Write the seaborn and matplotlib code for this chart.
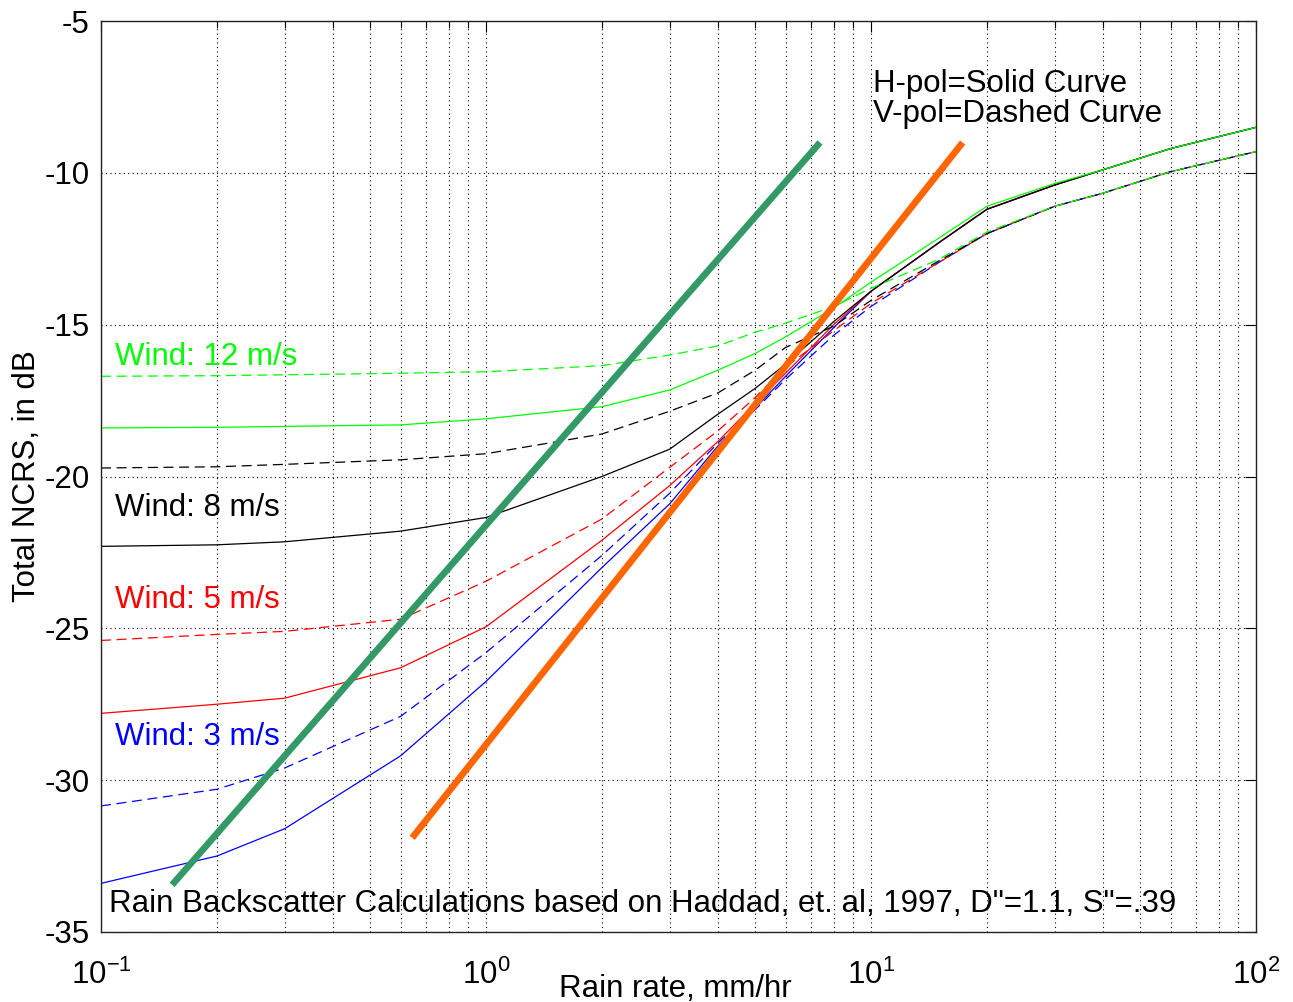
import numpy as np
import pandas as pd
import matplotlib
matplotlib.use('Agg')
import matplotlib.pyplot as plt
from matplotlib.ticker import FixedLocator, FuncFormatter, LogLocator, NullFormatter
import seaborn as sns

# Rain rates (mm/hr) at which the curves were read
rain_rate = [0.1, 0.2, 0.3, 0.6, 1, 2, 3, 4, 5, 6, 8, 10, 15, 20, 30, 40, 60, 100]

# Total NCRS (dB), H-pol = solid, V-pol = dashed
hpol_3 = [-33.4, -32.5, -31.6, -29.2, -26.75, -23.0, -20.9, -19.0, -17.75, -16.7, -15.1,
          -13.9, -12.3, -11.2, -10.4, -9.9, -9.2, -8.5]
vpol_3 = [-30.85, -30.3, -29.6, -27.9, -25.8, -22.6, -20.55, -18.9, -17.8, -16.8, -15.35,
          -14.4, -12.95, -12.0, -11.1, -10.67, -9.96, -9.3]
hpol_5 = [-27.8, -27.5, -27.3, -26.3, -24.95, -22.1, -20.3, -18.85, -17.6, -16.6, -15.0,
          -13.9, -12.3, -11.2, -10.4, -9.9, -9.2, -8.5]
vpol_5 = [-25.4, -25.2, -25.1, -24.7, -23.45, -21.4, -19.7, -18.5, -17.4, -16.4, -15.2,
          -14.3, -12.95, -12.0, -11.1, -10.67, -9.96, -9.3]
hpol_8 = [-22.3, -22.25, -22.15, -21.8, -21.35, -20.0, -19.1, -17.95, -17.1, -16.3, -14.9,
          -13.9, -12.3, -11.2, -10.4, -9.9, -9.2, -8.5]
vpol_8 = [-19.72, -19.68, -19.6, -19.45, -19.25, -18.6, -17.85, -17.25, -16.5, -15.75, -15.05,
          -14.2, -12.9, -12.0, -11.1, -10.67, -9.96, -9.3]
hpol_12 = [-18.4, -18.38, -18.35, -18.3, -18.1, -17.7, -17.15, -16.5, -15.95, -15.4, -14.45,
           -13.6, -12.15, -11.1, -10.35, -9.9, -9.2, -8.5]
vpol_12 = [-16.7, -16.68, -16.65, -16.6, -16.55, -16.35, -16.0, -15.7, -15.25, -14.95, -14.4,
           -13.8, -12.85, -11.95, -11.1, -10.67, -9.96, -9.3]

# Two thick reference lines
green_line_x = [0.153, 7.37]
green_line_y = [-33.45, -9.0]
orange_line_x = [0.643, 17.3]
orange_line_y = [-31.9, -9.0]

wind_labels = ['Wind: 3 m/s', 'Wind: 5 m/s', 'Wind: 8 m/s', 'Wind: 12 m/s']
wind_label_y = [-28.84, -24.33, -21.3, -16.33]
wind_colors = ['#0000FF', '#FF0000', '#000000', '#00FF00']

sns.set_style('white')
plt.rcParams['font.family'] = ['Liberation Sans', 'DejaVu Sans']
plt.rcParams['axes.unicode_minus'] = False
plt.rcParams['mathtext.default'] = 'regular'
plt.rcParams['text.color'] = 'black'
plt.rcParams['axes.labelcolor'] = 'black'
plt.rcParams['xtick.color'] = 'black'
plt.rcParams['ytick.color'] = 'black'

fs = 22.5

fig = plt.figure(figsize=(12.93, 10.02), dpi=100)
ax = fig.add_axes([0.0781, 0.0699, 0.8933, 0.9091])

curves = [(hpol_3, vpol_3), (hpol_5, vpol_5), (hpol_8, vpol_8), (hpol_12, vpol_12)]
for (h, v), c in zip(curves, wind_colors):
    sns.lineplot(x=rain_rate, y=h, color=c, lw=0.9, ax=ax)
    sns.lineplot(x=rain_rate, y=v, color=c, lw=0.9, linestyle=(0, (8, 4.5)), ax=ax)

sns.lineplot(x=green_line_x, y=green_line_y, color='#339966', lw=4.8,
             solid_capstyle='butt', ax=ax)
sns.lineplot(x=orange_line_x, y=orange_line_y, color='#FF6600', lw=4.8,
             solid_capstyle='butt', ax=ax)

ax.set_xscale('log')
ax.set_xlim(0.1, 100)
ax.set_ylim(-35, -5)
ax.yaxis.set_major_locator(FixedLocator(np.arange(-35, -4, 5)))
ax.xaxis.set_major_locator(LogLocator(base=10))
ax.xaxis.set_minor_locator(LogLocator(base=10, subs=np.arange(2, 10)))
ax.xaxis.set_minor_formatter(NullFormatter())
ax.xaxis.set_major_formatter(FuncFormatter(lambda v, p: '$10^{%d}$' % int(round(np.log10(v)))))

ax.grid(True, which='major', axis='both', color='k', lw=0.8, ls=(0, (1, 3)))
ax.grid(True, which='minor', axis='x', color='k', lw=0.8, ls=(0, (1, 3)))
ax.tick_params(which='major', direction='in', top=True, right=True, length=8,
               width=0.8, labelsize=fs, pad=8, colors='k')
ax.tick_params(axis='x', which='major', pad=20)
ax.tick_params(which='minor', direction='in', top=True, right=True, length=5, width=0.8)
for s in ax.spines.values():
    s.set_color('#222222')
    s.set_linewidth(1.0)

ax.set_xlabel('Rain rate, mm/hr', fontsize=fs)
ax.set_ylabel('Total NCRS, in dB', fontsize=fs)
ax.xaxis.set_label_coords(0.497, -0.046)
ax.yaxis.set_label_coords(-0.051, 0.5)

for lab, yy, c in zip(wind_labels, wind_label_y, wind_colors):
    ax.text(0.1087, yy, lab, color=c, fontsize=fs, ha='left', va='baseline')

ax.text(10.14, -7.33, 'H-pol=Solid Curve', fontsize=fs, ha='left', va='baseline')
ax.text(10.14, -8.32, 'V-pol=Dashed Curve', fontsize=fs, ha='left', va='baseline')
ax.text(0.1049, -34.33, 'Rain Backscatter Calculations based on Haddad, et. al, 1997, D"=1.1, S"=.39',
        fontsize=fs, ha='left', va='baseline')

fig.savefig('out.png', dpi=100)
